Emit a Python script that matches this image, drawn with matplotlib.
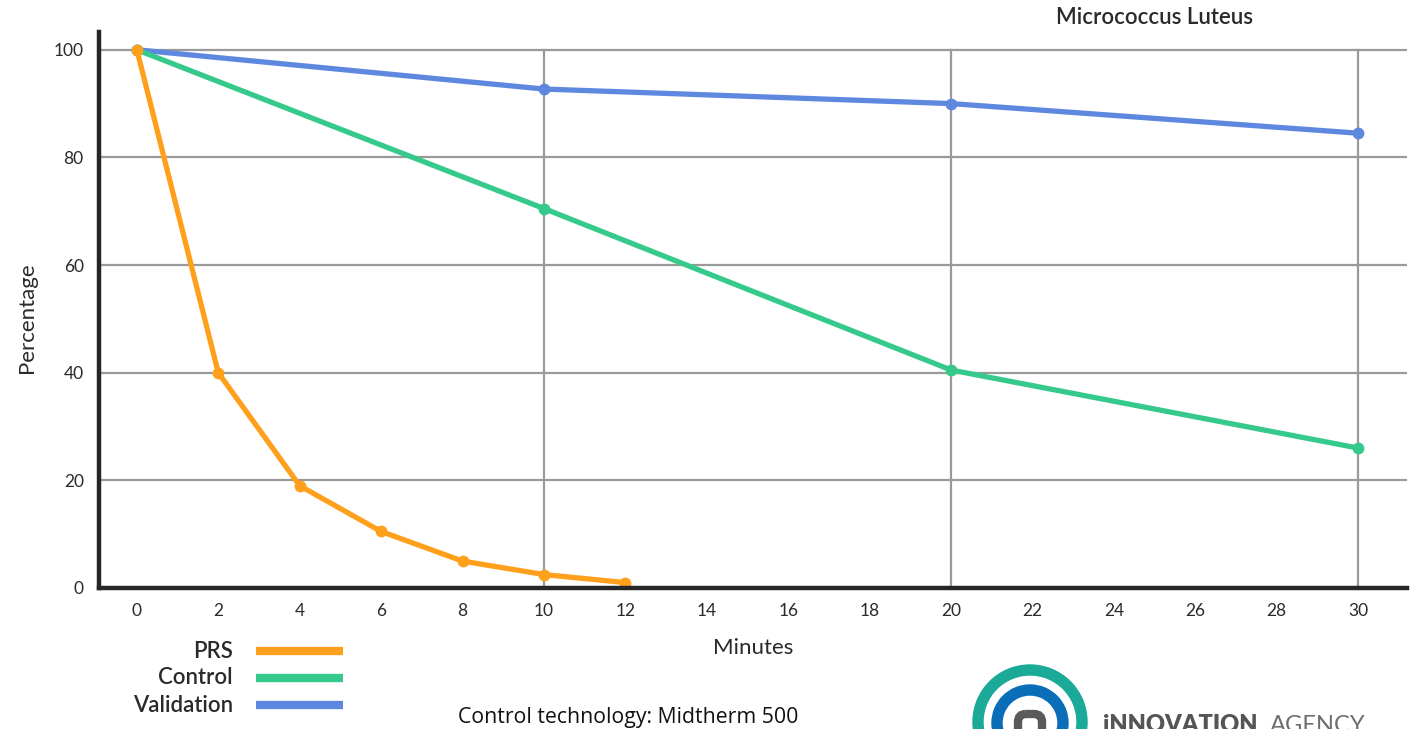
import matplotlib
matplotlib.use("Agg")
import matplotlib.pyplot as plt
from matplotlib.patches import Annulus, FancyBboxPatch
from matplotlib.lines import Line2D

# Survival of Micrococcus luteus over exposure time
prs_minutes = [0, 2, 4, 6, 8, 10, 12]
prs_values = [100, 40, 19, 10.5, 5, 2.5, 1]

control_minutes = [0, 10, 20, 30]
control_values = [100, 70.5, 40.5, 26]

validation_minutes = [0, 10, 20, 30]
validation_values = [100, 92.7, 90, 84.5]

x_ticks = list(range(0, 31, 2))
y_ticks = [0, 20, 40, 60, 80, 100]
series_names = ["PRS", "Control", "Validation"]

C_PRS = "#FFA01C"
C_CONTROL = "#35C98B"
C_VALID = "#5E88E0"
C_GRID = "#9A9A9A"
C_SPINE = "#262626"
C_TEXT = "#2A2A2A"

plt.rcParams["font.family"] = ["Lato", "DejaVu Sans"]

W, H = 1419, 729
fig = plt.figure(figsize=(W / 100, H / 100), dpi=100)
fig.patch.set_facecolor("white")

ax = fig.add_axes([99 / W, 1 - 588 / H, (1407 - 99) / W, (588 - 32) / H])
ax.set_xlim(-0.93, 31.2)
ax.set_ylim(0, 103.3)

# grid: horizontal at every 20, vertical only at 10/20/30
for yv in y_ticks[1:]:
    ax.axhline(yv, color=C_GRID, lw=1.6, zorder=1)
for xv in [10, 20, 30]:
    ax.plot([xv, xv], [0, 100], color=C_GRID, lw=1.6, zorder=1)

lw, ms = 3.8, 7.5
ax.plot(validation_minutes, validation_values, color=C_VALID, lw=lw,
        marker="o", ms=ms, zorder=3, solid_capstyle="round")
ax.plot(control_minutes, control_values, color=C_CONTROL, lw=lw,
        marker="o", ms=ms, zorder=4, solid_capstyle="round")
ax.plot(prs_minutes, prs_values, color=C_PRS, lw=lw,
        marker="o", ms=ms, zorder=5, solid_capstyle="round", clip_on=False)

for side in ["top", "right"]:
    ax.spines[side].set_visible(False)
for side in ["left", "bottom"]:
    ax.spines[side].set_linewidth(3.2)
    ax.spines[side].set_color(C_SPINE)
    ax.spines[side].set_zorder(6)

ax.set_xticks(x_ticks)
ax.set_yticks(y_ticks)
ax.tick_params(axis="both", length=0, labelsize=12.5, colors=C_TEXT)
ax.tick_params(axis="x", pad=11)
ax.tick_params(axis="y", pad=11)

fig.text(753 / W, 1 - 648 / H, "Minutes", ha="center", va="center",
         fontsize=16, color=C_TEXT)
fig.text(27 / W, 1 - 318 / H, "Percentage", ha="center", va="center",
         rotation=90, fontsize=16, color=C_TEXT)
fig.text(1155 / W, 1 - 18 / H, "Micrococcus Luteus", ha="center", va="center",
         fontsize=16, fontweight="semibold", color=C_TEXT)
fig.text(628 / W, 1 - 717 / H, "Control technology: Midtherm 500",
         ha="center", va="center", fontsize=15.3, color="#111111",
         family=["Open Sans", "DejaVu Sans"])

# legend drawn as labelled swatches
overlay = fig.add_axes([0, 0, 1, 1], zorder=10)
overlay.set_xlim(0, W)
overlay.set_ylim(H, 0)
overlay.axis("off")

for name, color, yy in zip(series_names, [C_PRS, C_CONTROL, C_VALID],
                           [651, 678, 705]):
    overlay.text(233, yy, name, ha="right", va="center", fontsize=16,
                 fontweight="semibold", color=C_TEXT)
    overlay.add_line(Line2D([256, 343], [yy, yy], color=color, lw=6,
                            solid_capstyle="butt"))

# Innovation Agency logo
overlay.add_patch(Annulus((1030, 722), 57, 10, color="#1BAA98"))
overlay.add_patch(Annulus((1030, 723), 38, 10, color="#0A6DB8"))
overlay.add_patch(FancyBboxPatch((1018, 714), 24, 30,
                                 boxstyle="round,pad=0,rounding_size=8",
                                 facecolor="none", edgecolor="#5A5A5A", lw=6))
overlay.text(1103, 732, "iNNOVATION", ha="left", va="baseline", fontsize=17,
             fontweight="heavy", color="#555555")
overlay.text(1270, 732, "AGENCY", ha="left", va="baseline", fontsize=17,
             fontweight="normal", color="#6E6E6E")

fig.savefig("out.png", dpi=100, facecolor="white")
